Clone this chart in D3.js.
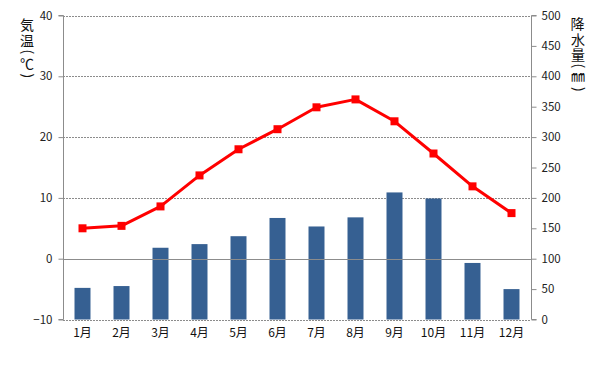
<!DOCTYPE html>
<html><head><meta charset="utf-8">
<script src="https://cdn.jsdelivr.net/npm/d3@7"></script>
<style>body{margin:0;background:#fff}svg{display:block}</style>
</head><body>
<svg id="c" width="599" height="369"></svg>
<script>
const months = ["1月","2月","3月","4月","5月","6月","7月","8月","9月","10月","11月","12月"];
const temperature = [5.0, 5.4, 8.6, 13.7, 18.0, 21.3, 24.9, 26.2, 22.6, 17.3, 11.9, 7.5];
const precipitation = [52, 55, 118, 124, 137, 167, 153, 168, 209, 199, 93, 50];
const tempTicks = [-10, 0, 10, 20, 30, 40];
const precTicks = [0, 50, 100, 150, 200, 250, 300, 350, 400, 450, 500];
const leftTitle = "気温(℃)";
const rightTitle = "降水量(㎜)";

const svg = d3.select("#c");
const L = 63, R = 531, T = 15.5, B = 319.5;
const font = "'Noto Sans CJK JP', 'Noto Sans', sans-serif";
const x = d3.scaleBand().domain(months).range([L, R]).paddingInner(0.59).paddingOuter(0.295);
const xc = d3.scaleBand().domain(months).range([L, R]);
const yT = d3.scaleLinear().domain([-10, 40]).range([B, T]);
const yP = d3.scaleLinear().domain([0, 500]).range([B, T]);

// gridlines
svg.append("g").selectAll("line").data([-10, 10, 20, 30, 40]).join("line")
  .attr("x1", L).attr("x2", R).attr("y1", d => Math.round(yT(d)) + 0.5).attr("y2", d => Math.round(yT(d)) + 0.5)
  .attr("stroke", "#8c8c8c").attr("stroke-width", 1).attr("stroke-dasharray", "2,1");

// bars
svg.append("g").selectAll("rect").data(months).join("rect")
  .attr("x", d => x(d)).attr("width", x.bandwidth())
  .attr("y", (d, i) => yP(precipitation[i])).attr("height", (d, i) => yP(0) - yP(precipitation[i]))
  .attr("fill", "#366092");

// zero line (category axis)
svg.append("line").attr("x1", L).attr("x2", R)
  .attr("y1", Math.round(yT(0)) + 0.5).attr("y2", Math.round(yT(0)) + 0.5)
  .attr("stroke", "#8c8c8c").attr("stroke-width", 1);

// left axis
const la = svg.append("g").attr("transform", `translate(${L + 0.5},0)`)
  .call(d3.axisLeft(yT).tickValues(tempTicks).tickSize(5).tickPadding(6).tickFormat(d3.format("d")));
la.select(".domain").attr("stroke", "#8c8c8c").attr("d", `M-5,${yT(40)}H0V${yT(-10)}H-5`);
la.selectAll(".tick line").attr("stroke", "#8c8c8c");
la.selectAll("text").attr("font-family", font).attr("font-size", 11.5).attr("fill", "#222");

// right axis
const ra = svg.append("g").attr("transform", `translate(${R + 0.5},0)`)
  .call(d3.axisRight(yP).tickValues(precTicks).tickSize(5).tickPadding(5).tickFormat(d3.format("d")));
ra.select(".domain").attr("stroke", "#8c8c8c").attr("d", `M5,${yP(500)}H0V${yP(0)}H5`);
ra.selectAll(".tick line").attr("stroke", "#8c8c8c");
ra.selectAll("text").attr("font-family", font).attr("font-size", 11.5).attr("fill", "#222");

// x labels
svg.append("g").selectAll("text").data(months).join("text")
  .attr("x", d => xc(d) + xc.bandwidth() / 2).attr("y", 337)
  .attr("text-anchor", "middle").attr("font-family", font).attr("font-size", 12).attr("fill", "#111")
  .text(d => d);

// temperature line
const line = d3.line().x((d, i) => xc(months[i]) + xc.bandwidth() / 2).y(d => yT(d));
svg.append("path").datum(temperature).attr("d", line)
  .attr("fill", "none").attr("stroke", "#ff0000").attr("stroke-width", 3).attr("stroke-linejoin", "round");
svg.append("g").selectAll("rect").data(temperature).join("rect")
  .attr("x", (d, i) => xc(months[i]) + xc.bandwidth() / 2 - 4).attr("y", d => yT(d) - 4)
  .attr("width", 8).attr("height", 8).attr("fill", "#ff0000");

// vertical titles: single text element, each glyph placed and rotated individually
const ctx = document.createElement("canvas").getContext("2d");
ctx.font = "14px " + font;
function vTitle(str, cx, y0, step) {
  const xs = [], ys = [], rs = [];
  let y = y0;
  Array.from(str).forEach(ch => {
    const narrow = ch === "(" || ch === ")";
    const h = narrow ? 7 : step;
    const cy = y + h / 2;
    const m = ctx.measureText(ch);
    const mx = (m.actualBoundingBoxRight - m.actualBoundingBoxLeft) / 2;
    const my = (m.actualBoundingBoxDescent - m.actualBoundingBoxAscent) / 2;
    if (narrow) { xs.push(cx + my); ys.push(cy - mx); rs.push(90); }
    else { xs.push(cx - mx); ys.push(cy - my); rs.push(0); }
    y += h;
  });
  svg.append("text")
    .attr("x", xs.map(v => v.toFixed(2)).join(" "))
    .attr("y", ys.map(v => v.toFixed(2)).join(" "))
    .attr("rotate", rs.join(" "))
    .attr("font-family", font).attr("font-size", 14).attr("fill", "#111")
    .text(str);
}
vTitle(leftTitle, 27, 17, 16);
vTitle(rightTitle, 578, 16.5, 15.5);
</script>
</body></html>
